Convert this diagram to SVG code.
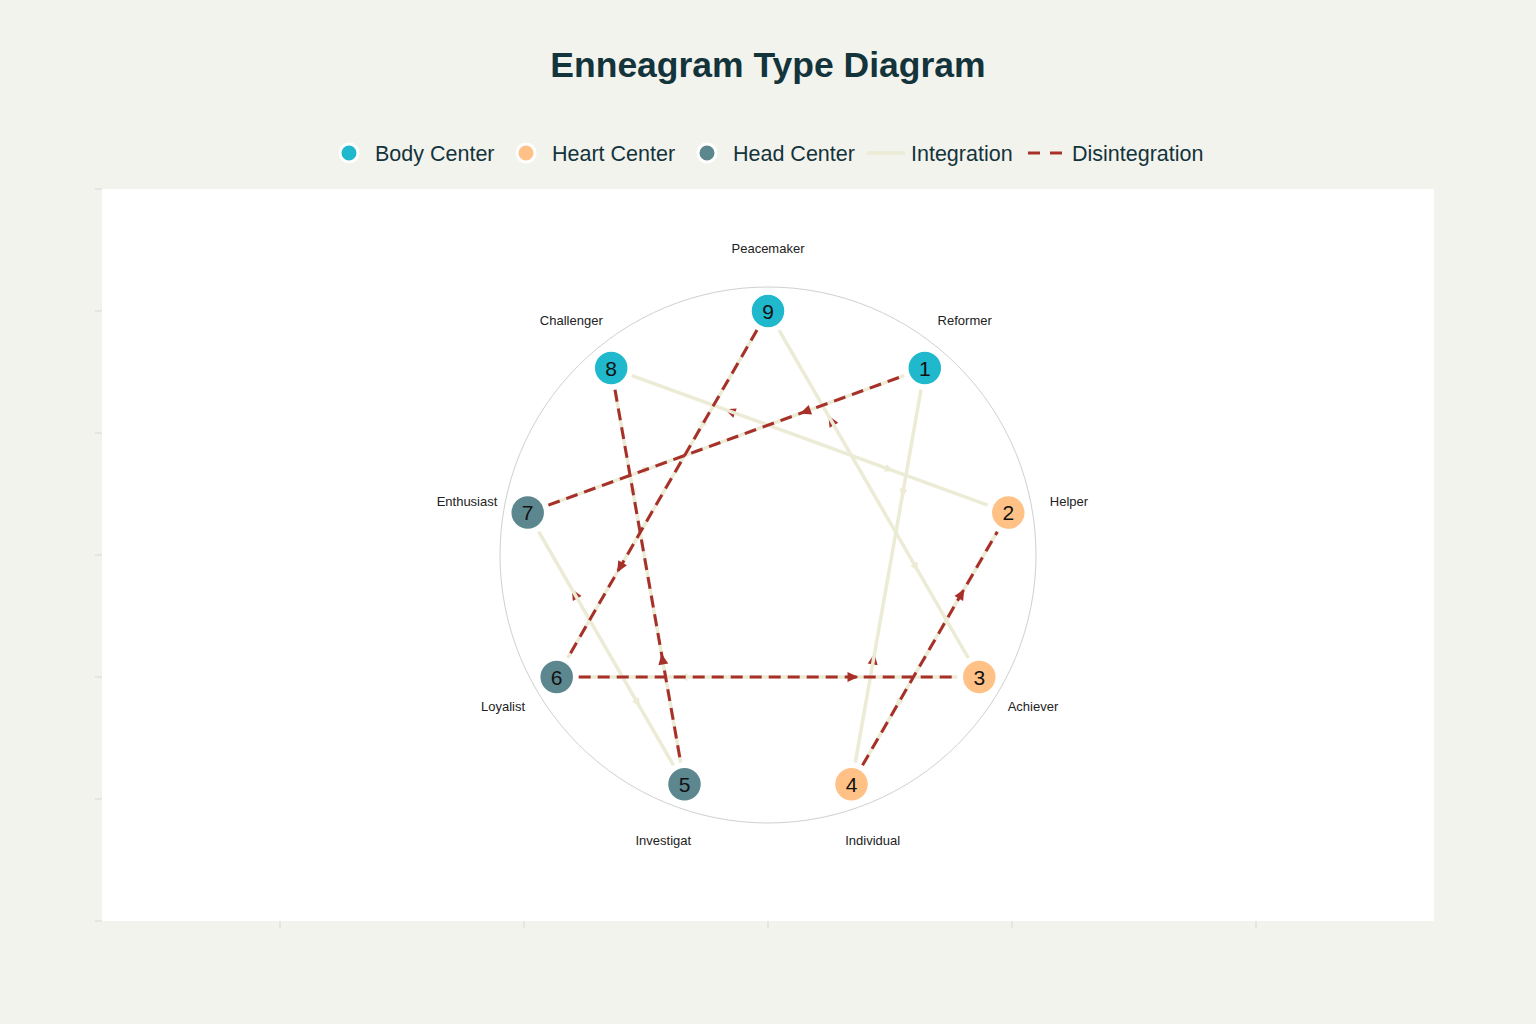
<svg xmlns="http://www.w3.org/2000/svg" xmlns:xlink="http://www.w3.org/1999/xlink" width="1536" height="1024" viewBox="0 0 1536 1024">
  <style>
    .title { font-family: "Liberation Sans", Arial, sans-serif; font-weight: bold; font-size: 35.5px; fill: #13343B; }
    .legend { font-family: "Liberation Sans", Arial, sans-serif; font-size: 21.5px; fill: #13343B; }
    .lbl { font-family: "Liberation Sans", Arial, sans-serif; font-size: 13px; fill: #222222; text-anchor: middle; }
    .num { font-family: "Liberation Sans", Arial, sans-serif; font-size: 21px; fill: #111111; text-anchor: middle; }
    .tick { stroke: #D9D9D4; stroke-width: 1; }
    .integ { stroke: #ECEBD5; stroke-width: 3.5; fill: none; stroke-linecap: butt; }
    .disint { stroke: #A8302B; stroke-width: 3; fill: none; stroke-dasharray: 12 7; }
    .body { fill: #1FB8CD; }
    .heart { fill: #FFC185; }
    .head { fill: #5D878F; }
    .node { stroke: #FFFFFF; stroke-width: 1.5; }
    .redA { fill: #A8302B; }
    .creamA { fill: #ECEBD5; }
  </style>
  <defs>
    <path id="ahRed" d="M6,0 L-5,-5 L-5,5 Z"/>
    <path id="ahCream" d="M5,0 L-4,-4 L-4,4 Z"/>
  </defs>

  <rect x="0" y="0" width="1536" height="1024" fill="#F3F3EE"/>
  <rect x="102" y="189" width="1332" height="732" fill="#FFFFFF"/>

  <g id="axis-ticks">
    <line class="tick" x1="95" y1="189" x2="102" y2="189"/>
    <line class="tick" x1="95" y1="311" x2="102" y2="311"/>
    <line class="tick" x1="95" y1="433" x2="102" y2="433"/>
    <line class="tick" x1="95" y1="555" x2="102" y2="555"/>
    <line class="tick" x1="95" y1="677" x2="102" y2="677"/>
    <line class="tick" x1="95" y1="799" x2="102" y2="799"/>
    <line class="tick" x1="95" y1="921" x2="102" y2="921"/>
    <line class="tick" x1="280" y1="921" x2="280" y2="928"/>
    <line class="tick" x1="524" y1="921" x2="524" y2="928"/>
    <line class="tick" x1="768" y1="921" x2="768" y2="928"/>
    <line class="tick" x1="1012" y1="921" x2="1012" y2="928"/>
    <line class="tick" x1="1256" y1="921" x2="1256" y2="928"/>
  </g>

  <text class="title" x="768" y="77" text-anchor="middle">Enneagram Type Diagram</text>

  <g id="legend">
    <circle cx="349" cy="153" r="9" class="body" stroke="#FFFFFF" stroke-width="3"/>
    <text class="legend" x="375" y="160.5">Body Center</text>
    <circle cx="526" cy="153" r="9" class="heart" stroke="#FFFFFF" stroke-width="3"/>
    <text class="legend" x="552" y="160.5">Heart Center</text>
    <circle cx="707" cy="153" r="9" class="head" stroke="#FFFFFF" stroke-width="3"/>
    <text class="legend" x="733" y="160.5">Head Center</text>
    <line x1="867" y1="153" x2="905" y2="153" class="integ" stroke-width="3"/>
    <text class="legend" x="911" y="160.5">Integration</text>
    <line x1="1028" y1="153" x2="1040" y2="153" stroke="#A8302B" stroke-width="3"/>
    <line x1="1050" y1="153" x2="1062" y2="153" stroke="#A8302B" stroke-width="3"/>
    <text class="legend" x="1072" y="160.5">Disintegration</text>
  </g>

  <circle id="outer-circle" cx="768" cy="555" r="268" fill="none" stroke="#D0D0D0" stroke-width="1"/>

  <g id="connectors">
    <!-- disintegration arrowheads lying under integration lines -->
    <use href="#ahRed" class="redA" transform="translate(730.3,411.4) rotate(-160)"/>
    <use href="#ahRed" class="redA" transform="translate(831.4,420.8) rotate(-120)"/>
    <use href="#ahRed" class="redA" transform="translate(574.7,594.1) rotate(-120)"/>
    <use href="#ahRed" class="redA" transform="translate(873.5,659.4) rotate(-80)"/>

    <!-- integration lines -->
    <line class="integ" x1="631.9" y1="375.6" x2="987.6" y2="505.1"/>
    <line class="integ" x1="779" y1="330.1" x2="968.3" y2="658"/>
    <line class="integ" x1="921" y1="389.8" x2="855.3" y2="762.6"/>
    <line class="integ" x1="538.7" y1="531.7" x2="673.5" y2="765.3"/>
    <line class="integ" x1="904.1" y1="375.6" x2="548.4" y2="505.1"/>
    <line class="integ" x1="757" y1="330.1" x2="567.7" y2="658"/>
    <line class="integ" x1="578.7" y1="677" x2="957.3" y2="677"/>
    <line class="integ" x1="615" y1="389.8" x2="680.7" y2="762.6"/>
    <line class="integ" x1="997.3" y1="531.7" x2="862.5" y2="765.3"/>

    <!-- integration arrowheads -->
    <use href="#ahCream" class="creamA" transform="translate(889.2,469.3) rotate(20)"/>
    <use href="#ahCream" class="creamA" transform="translate(902.8,493) rotate(100)"/>
    <use href="#ahCream" class="creamA" transform="translate(915.9,567.2) rotate(60)"/>
    <use href="#ahCream" class="creamA" transform="translate(704.6,420.8) rotate(-60)"/>
    <use href="#ahCream" class="creamA" transform="translate(683.5,677) rotate(180)"/>
    <use href="#ahCream" class="creamA" transform="translate(637.5,702.8) rotate(60)"/>
    <use href="#ahCream" class="creamA" transform="translate(646.8,469.3) rotate(-20)"/>
    <use href="#ahCream" class="creamA" transform="translate(633.2,493) rotate(80)"/>
    <use href="#ahCream" class="creamA" transform="translate(898.5,702.8) rotate(120)"/>

    <!-- disintegration lines -->
    <line class="disint" x1="548.4" y1="505.1" x2="904.1" y2="375.6"/>
    <line class="disint" x1="757" y1="330.1" x2="567.7" y2="658"/>
    <line class="disint" x1="615" y1="389.8" x2="680.7" y2="762.6"/>
    <line class="disint" x1="578.7" y1="677" x2="957.3" y2="677"/>
    <line class="disint" x1="862.5" y1="765.3" x2="997.3" y2="531.7"/>

    <!-- disintegration arrowheads -->
    <use href="#ahRed" class="redA" transform="translate(805.7,411.4) rotate(160)"/>
    <use href="#ahRed" class="redA" transform="translate(620.1,567.2) rotate(120)"/>
    <use href="#ahRed" class="redA" transform="translate(662.5,659.4) rotate(-100)"/>
    <use href="#ahRed" class="redA" transform="translate(852.5,677) rotate(0)"/>
    <use href="#ahRed" class="redA" transform="translate(961.3,594.1) rotate(-60)"/>
  </g>

  <g id="node-9">
    <circle class="node body" cx="768" cy="311" r="17"/>
    <text class="num" x="768" y="318.5">9</text>
    <text class="lbl" x="768" y="253">Peacemaker</text>
  </g>
  <g id="node-1">
    <circle class="node body" cx="924.8" cy="368.1" r="17"/>
    <text class="num" x="924.8" y="375.6">1</text>
    <text class="lbl" x="964.7" y="325">Reformer</text>
  </g>
  <g id="node-2">
    <circle class="node heart" cx="1008.3" cy="512.6" r="17"/>
    <text class="num" x="1008.3" y="520.1">2</text>
    <text class="lbl" x="1069" y="506">Helper</text>
  </g>
  <g id="node-3">
    <circle class="node heart" cx="979.3" cy="677" r="17"/>
    <text class="num" x="979.3" y="684.5">3</text>
    <text class="lbl" x="1033" y="711">Achiever</text>
  </g>
  <g id="node-4">
    <circle class="node heart" cx="851.5" cy="784.3" r="17"/>
    <text class="num" x="851.5" y="791.8">4</text>
    <text class="lbl" x="872.7" y="845">Individual</text>
  </g>
  <g id="node-5">
    <circle class="node head" cx="684.5" cy="784.3" r="17"/>
    <text class="num" x="684.5" y="791.8">5</text>
    <text class="lbl" x="663.3" y="845">Investigat</text>
  </g>
  <g id="node-6">
    <circle class="node head" cx="556.7" cy="677" r="17"/>
    <text class="num" x="556.7" y="684.5">6</text>
    <text class="lbl" x="503" y="711">Loyalist</text>
  </g>
  <g id="node-7">
    <circle class="node head" cx="527.7" cy="512.6" r="17"/>
    <text class="num" x="527.7" y="520.1">7</text>
    <text class="lbl" x="467" y="506">Enthusiast</text>
  </g>
  <g id="node-8">
    <circle class="node body" cx="611.2" cy="368.1" r="17"/>
    <text class="num" x="611.2" y="375.6">8</text>
    <text class="lbl" x="571.3" y="325">Challenger</text>
  </g>
</svg>
